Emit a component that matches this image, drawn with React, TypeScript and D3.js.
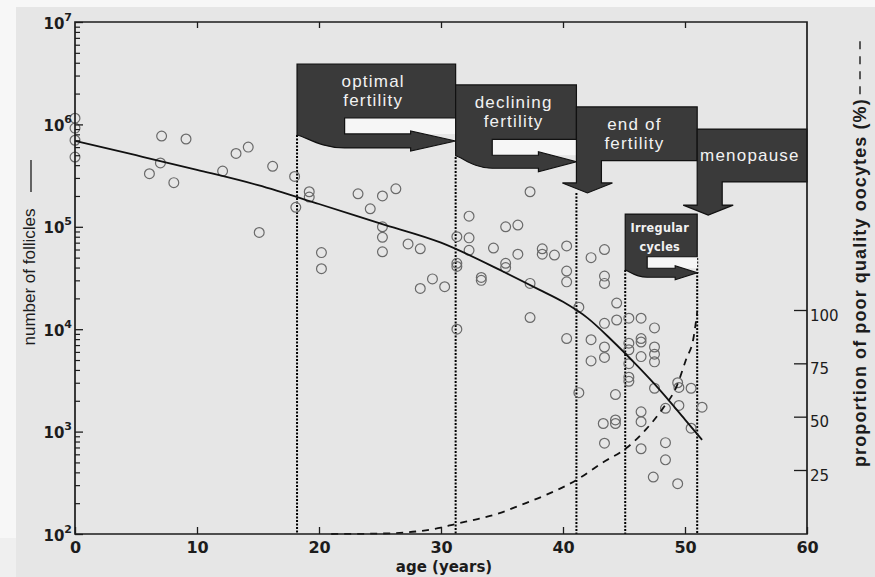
import React, { useEffect, useRef } from 'react';
import * as d3 from 'd3';

const W = 875;
const H = 577;

// individual ovaries: age (years) and number of follicles
const pointAges = [
  0, 0, 0, 0, 7.1, 9.1, 14.2, 13.2, 7.0, 6.1, 8.1, 12.1, 16.2, 18.0, 18.1, 15.1,
  19.2, 19.2, 20.2, 20.2, 23.2, 24.2, 25.2, 26.3, 25.2, 25.2, 25.2, 27.3, 28.3, 29.3,
  28.3, 30.3, 31.3, 31.3, 31.3, 31.3, 32.3, 32.3, 32.3, 33.3, 33.3, 34.3, 35.3, 36.3,
  35.3, 35.3, 36.3, 37.3, 37.3, 37.3, 38.3, 38.3, 39.3, 40.3, 40.3, 40.3, 42.3, 43.4,
  43.4, 43.4, 41.3, 44.4, 40.3, 42.3, 43.4, 44.4, 43.4, 43.4, 42.3, 45.4, 46.4, 47.5,
  46.4, 46.4, 45.4, 45.4, 47.5, 47.5, 47.5, 46.4, 45.4, 45.4, 45.4, 44.3, 41.3, 47.5,
  49.4, 49.5, 50.5, 46.4, 46.4, 48.4, 49.5, 51.4, 44.3, 44.3, 43.3, 43.4, 46.4, 48.4,
  48.4, 47.4, 49.4, 50.5,
];
const pointCounts = [
  1.15e6, 9.2e5, 7.0e5, 4.8e5, 7.7e5, 7.2e5, 6.0e5, 5.2e5, 4.2e5, 3.3e5, 2.7e5, 3.5e5, 3.9e5, 3.1e5, 1.55e5, 8.8e4,
  2.2e5, 1.95e5, 5.6e4, 3.9e4, 2.1e5, 1.5e5, 2.0e5, 2.35e5, 1.0e5, 7.9e4, 5.7e4, 6.8e4, 6.1e4, 3.1e4,
  2.5e4, 2.6e4, 8.0e4, 4.4e4, 4.1e4, 1.0e4, 1.27e5, 7.8e4, 5.9e4, 3.2e4, 3.0e4, 6.2e4, 1.0e5, 1.04e5,
  4.4e4, 4.0e4, 5.4e4, 2.2e5, 2.8e4, 1.3e4, 6.1e4, 5.4e4, 5.3e4, 6.5e4, 3.7e4, 2.9e4, 5.0e4, 6.0e4,
  3.3e4, 2.8e4, 1.64e4, 1.8e4, 8.1e3, 7.9e3, 1.14e4, 1.23e4, 6.7e3, 5.3e3, 4.9e3, 1.28e4, 1.28e4, 1.03e4,
  8.1e3, 7.5e3, 7.3e3, 6.3e3, 6.7e3, 5.7e3, 4.8e3, 5.4e3, 4.6e3, 3.4e3, 3.1e3, 2.3e3, 2.4e3, 2.65e3,
  3.0e3, 2.7e3, 2.65e3, 1.56e3, 1.25e3, 1.69e3, 1.8e3, 1.73e3, 1.3e3, 1.2e3, 1.2e3, 770, 680, 780,
  530, 360, 310, 1.08e3,
];

// fitted decline of the follicle pool
const curveAges = [0, 5, 10, 15, 20, 25, 30, 35, 38, 40, 42, 44, 46, 48, 50, 51.4];
const curveCounts = [6.9e5, 5.0e5, 3.6e5, 2.55e5, 1.67e5, 1.08e5, 7.0e4, 3.7e4, 2.45e4, 1.85e4, 1.29e4, 7.8e3, 4.5e3, 2.5e3, 1.31e3, 830];

// proportion of poor quality oocytes (%), right axis
const poorAges = [21, 25, 28, 30, 31.2, 33, 34.8, 36.5, 38.6, 41.1, 43.2, 45.2, 46.8, 48.2, 49.3, 50.1, 50.7, 51.0];
const poorPct = [-5, -4.8, -3.8, -2, -0.3, 2, 4.8, 8.5, 13.3, 20.3, 28.3, 35.3, 44, 54, 64, 77, 87, 99];

const xTicks = [0, 10, 20, 30, 40, 50, 60];
const yExponents = [2, 3, 4, 5, 6, 7];
const rightTicks = [25, 50, 75, 100];

// reproductive phases drawn as arrows
const phaseLabels = [['optimal', 'fertility'], ['declining', 'fertility'], ['end of', 'fertility'], ['menopause'], ['Irregular', 'cycles']];
const phaseStart = [18.2, 31.2, 41.1, 51.0, 45.1];
const phaseEnd = [31.2, 41.1, 51.0, 60, 51.0];
const phaseInset = [22.1, 34.2, 0, 0, 46.9];
const phaseTop = [3.89e6, 2.43e6, 1.48e6, 9.0e5, 1.33e5];
const phaseBase = [1.155e6, 7.15e5, 4.42e5, 2.74e5, 5.1e4];
const phaseStem = [0, 0, 2.68e5, 1.63e5, 0];
const phaseTip = [6.89e5, 4.32e5, 2.14e5, 1.3e5, 3.56e4];
const phaseDir = ['right', 'right', 'down', 'down', 'right'];

const boundaryAges = [18.2, 31.2, 41.1, 45.1, 51.0];
const boundaryTop = [7.9e5, 4.8e5, 2.14e5, 3.79e4, 4.96e4];

const App: React.FC = () => {
  const svgRef = useRef<SVGSVGElement>(null);

  useEffect(() => {
    if (!svgRef.current) return;
    const svg = d3.select(svgRef.current);
    svg.selectAll('*').remove();

    const x = d3.scaleLinear().domain([0, 60]).range([75, 807]);
    const y = d3.scaleLog().domain([1e2, 1e7]).range([534, 22]);
    const y2 = d3.scaleLinear().domain([-5, 235]).range([534, 22]);
    const ink = '#1c1c1c';
    const numFont = '"DejaVu Sans", sans-serif';

    // background (scanned page)
    svg.append('rect').attr('width', W).attr('height', H).attr('fill', '#f7f7f7');
    svg.append('rect').attr('x', 16).attr('y', 7).attr('width', W - 16).attr('height', H - 7).attr('fill', '#e6e6e6');
    svg.append('rect').attr('x', 0).attr('y', 538).attr('width', 16).attr('height', H - 538).attr('fill', '#efefef');

    // dotted phase boundaries
    svg.append('g')
      .selectAll('line')
      .data(boundaryAges)
      .enter()
      .append('line')
      .attr('x1', d => x(d))
      .attr('x2', d => x(d))
      .attr('y1', (d, i) => y(boundaryTop[i]))
      .attr('y2', y(1e2))
      .attr('stroke', '#000')
      .attr('stroke-width', 2)
      .attr('stroke-dasharray', '2,1.5');

    // scatter
    svg.append('g')
      .selectAll('circle')
      .data(pointAges)
      .enter()
      .append('circle')
      .attr('cx', d => x(d))
      .attr('cy', (d, i) => y(pointCounts[i]))
      .attr('r', 4.9)
      .attr('fill', 'none')
      .attr('stroke', '#6a6a6a')
      .attr('stroke-width', 1.2);

    // follicle curve
    const solid = d3.line<number>()
      .x(d => x(d))
      .y((d, i) => y(curveCounts[i]))
      .curve(d3.curveMonotoneX);
    svg.append('path')
      .attr('d', solid(curveAges))
      .attr('fill', 'none')
      .attr('stroke', '#111')
      .attr('stroke-width', 1.8);

    // poor quality oocytes curve
    const dashed = d3.line<number>()
      .x(d => x(d))
      .y((d, i) => y2(poorPct[i]))
      .curve(d3.curveMonotoneX);
    svg.append('path')
      .attr('d', dashed(poorAges))
      .attr('fill', 'none')
      .attr('stroke', '#111')
      .attr('stroke-width', 1.8)
      .attr('stroke-dasharray', '7,6');

    // phase arrows
    const arrows = svg.append('g');
    phaseLabels.forEach((lines, i) => {
      const X0 = x(phaseStart[i]);
      const X1 = x(phaseEnd[i]);
      const T = y(phaseTop[i]);
      const B = y(phaseBase[i]);
      const tip = y(phaseTip[i]);
      const small = i === 4;
      let p = '';
      if (phaseDir[i] === 'right') {
        const XI = x(phaseInset[i]);
        const hs = small ? 4.5 : i === 0 ? 7 : 6.5;
        const hh = small ? 7 : 10;
        const hl = small ? 22 : i === 0 ? 45 : 38;
        const drop = small ? 3 : 6;
        // light notch between the box and its arrow shaft
        arrows.append('rect')
          .attr('x', XI)
          .attr('y', B)
          .attr('width', X1 - XI)
          .attr('height', tip - hs - B)
          .attr('fill', '#f6f6f6');
        p = `M${X0},${T}H${X1}V${B}H${XI}V${tip - hs}H${X1 - hl}V${tip - hh}L${X1},${tip}` +
          `L${X1 - hl},${tip + hh}V${tip + hs}H${XI}` +
          `C${XI - (XI - X0) * 0.5},${tip + hs} ${X0 + (XI - X0) * 0.2},${tip - drop + 2} ${X0},${tip - drop}Z`;
      } else {
        const SB = y(phaseStem[i]);
        p = `M${X0},${T}H${X1}V${B}H${X0 + 25}V${SB}H${X0 + 36}L${X0 + 11},${tip}L${X0 - 14},${SB}H${X0}Z`;
      }
      arrows.append('path')
        .attr('d', p)
        .attr('fill', '#3a3a3a')
        .attr('stroke', '#111')
        .attr('stroke-width', 1.2);

      const cx = X0 + (X1 - X0) * 0.48;
      lines.forEach((t, k) => {
        const ty = lines.length === 1 ? (T + B) / 2 : T + (small ? 14 : 17) + k * (small ? 18.5 : 19);
        arrows.append('text')
          .attr('x', cx)
          .attr('y', ty)
          .attr('dy', '0.35em')
          .attr('text-anchor', 'middle')
          .attr('fill', '#f2f2f2')
          .style('font-family', small ? '"DejaVu Sans Condensed", "DejaVu Sans", sans-serif' : '"Liberation Sans", Arial, sans-serif')
          .style('font-stretch', small ? 'condensed' : 'normal')
          .style('font-weight', small ? 'bold' : 'normal')
          .style('font-size', small ? '12.5px' : '17px')
          .style('letter-spacing', small ? '0.3px' : '1.2px')
          .text(t);
      });
    });

    // axes box
    const box = svg.append('g').attr('stroke', ink).attr('stroke-width', 1.7).attr('fill', 'none');
    box.append('path').attr('d', `M${x(0)},${y(1e7)}H${x(60)}V${y(1e2)}H${x(0)}Z`);

    // bottom axis
    const bottom = svg.append('g')
      .attr('transform', `translate(0,${y(1e2)})`)
      .call(d3.axisBottom(x).tickValues(xTicks).tickSizeInner(-7).tickSizeOuter(0).tickPadding(8));
    bottom.select('.domain').remove();
    bottom.selectAll('line').attr('stroke', ink).attr('stroke-width', 1.3);
    bottom.selectAll('text')
      .attr('fill', ink)
      .style('font-family', numFont)
      .style('font-weight', 'bold')
      .style('font-size', '16px');

    // top axis ticks
    const top = svg.append('g')
      .attr('transform', `translate(0,${y(1e7)})`)
      .call(d3.axisTop(x).tickValues(xTicks.slice(1, -1)).tickSizeInner(-6).tickSizeOuter(0).tickFormat(() => ''));
    top.select('.domain').remove();
    top.selectAll('line').attr('stroke', ink).attr('stroke-width', 1.3);

    // left axis, log ticks
    const minor: number[] = [];
    yExponents.slice(0, -1).forEach(e => {
      for (let m = 2; m <= 9; m++) minor.push(m * Math.pow(10, e));
    });
    const leftMinor = svg.append('g')
      .attr('transform', `translate(${x(0)},0)`)
      .call(d3.axisLeft(y).tickValues(minor).tickSizeInner(-5).tickSizeOuter(0).tickFormat(() => ''));
    leftMinor.select('.domain').remove();
    leftMinor.selectAll('line').attr('stroke', ink).attr('stroke-width', 1.2);
    const leftMajor = svg.append('g')
      .attr('transform', `translate(${x(0)},0)`)
      .call(d3.axisLeft(y).tickValues(yExponents.map(e => Math.pow(10, e))).tickSizeInner(-8).tickSizeOuter(0).tickFormat(() => ''));
    leftMajor.select('.domain').remove();
    leftMajor.selectAll('line').attr('stroke', ink).attr('stroke-width', 1.3);

    const yLabels = svg.append('g');
    yExponents.forEach(e => {
      const t = yLabels.append('text')
        .attr('x', 72)
        .attr('y', y(Math.pow(10, e)) + 6.5)
        .attr('text-anchor', 'end')
        .attr('fill', ink)
        .style('font-family', numFont)
        .style('font-weight', 'bold')
        .style('font-size', '15px');
      t.append('tspan').text('10');
      t.append('tspan').attr('dy', -8).style('font-size', '11px').text(String(e));
    });

    // right axis
    const right = svg.append('g')
      .attr('transform', `translate(${x(60)},0)`)
      .call(d3.axisRight(y2).tickValues(rightTicks).tickSizeInner(-13).tickSizeOuter(0).tickPadding(3));
    right.select('.domain').remove();
    right.selectAll('line').attr('stroke', ink).attr('stroke-width', 1.3);
    right.selectAll('text')
      .attr('dy', '0.68em')
      .attr('fill', ink)
      .style('font-family', numFont)
      .style('font-size', '15px');

    // axis titles
    svg.append('text')
      .attr('x', (x(0) + x(60)) / 2 + 3)
      .attr('y', 572)
      .attr('text-anchor', 'middle')
      .attr('fill', ink)
      .style('font-family', numFont)
      .style('font-weight', 'bold')
      .style('font-size', '15px')
      .text('age (years)');

    svg.append('text')
      .attr('transform', 'translate(35,277) rotate(-90)')
      .attr('text-anchor', 'middle')
      .attr('fill', ink)
      .style('font-family', '"Liberation Sans", Arial, sans-serif')
      .style('font-size', '17px')
      .text('number of follicles');
    svg.append('line')
      .attr('x1', 31).attr('x2', 31)
      .attr('y1', 160).attr('y2', 192)
      .attr('stroke', ink)
      .attr('stroke-width', 1.3);

    const rLabel = svg.append('text')
      .attr('transform', 'translate(866,467) rotate(-90)')
      .attr('fill', ink)
      .style('font-family', '"Liberation Sans", Arial, sans-serif')
      .style('font-weight', 'bold')
      .style('font-size', '18px')
      .style('letter-spacing', '1.1px')
      .text('proportion of poor quality oocytes (%)');
    const len = (rLabel.node() as SVGTextElement).getComputedTextLength();
    svg.append('line')
      .attr('x1', 860).attr('x2', 860)
      .attr('y1', 467 - len - 4).attr('y2', 467 - len - 62)
      .attr('stroke', ink)
      .attr('stroke-width', 1.4)
      .attr('stroke-dasharray', '8,7');
  }, []);

  return (
    <div style={{ position: 'absolute', left: 0, top: 0 }}>
      <svg ref={svgRef} width={W} height={H} style={{ display: 'block' }} />
    </div>
  );
};

export default App;
